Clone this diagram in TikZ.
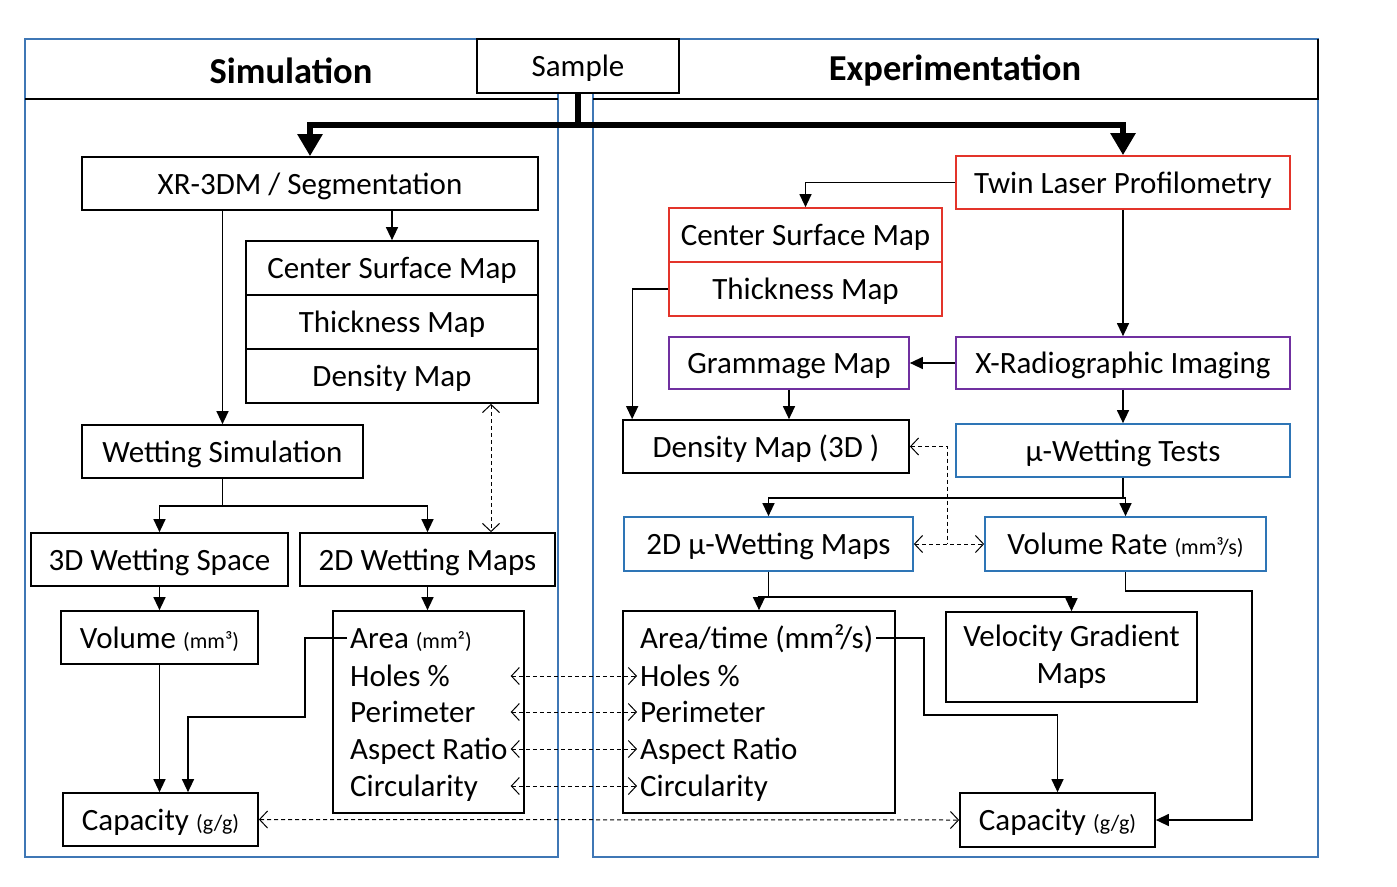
\documentclass[tikz,border=0pt]{standalone}
\usepackage{fontspec}
\setmainfont{Carlito}
\usetikzlibrary{arrows.meta}
\definecolor{panelblue}{HTML}{3F77B5}
\definecolor{boxblue}{HTML}{2E75B6}
\definecolor{boxred}{HTML}{E3342A}
\definecolor{boxpurple}{HTML}{7030A0}
\newcommand{\sm}[1]{{\fontsize{22}{26}\selectfont #1}}
\begin{document}
\begin{tikzpicture}[x=1pt,y=-1pt,
  plainbox/.style={draw=black, line width=1.7pt, inner sep=0pt, fill=white,
              font=\fontsize{31}{37}\selectfont, align=center},
  box/.style={plainbox, text height=24pt, text depth=2.6pt},
  redbox/.style={box, draw=boxred},
  purplebox/.style={box, draw=boxpurple},
  bluebox/.style={box, draw=boxblue},
  item/.style={anchor=west, inner sep=3pt, font=\fontsize{31}{37}\selectfont,
               text height=24pt, text depth=2.6pt},
  title/.style={font=\fontsize{36.5}{42}\selectfont\bfseries},
  panel/.style={draw=panelblue, line width=1.8pt},
  arr/.style={line width=1.3pt, -{Triangle[length=13pt,width=12pt]}},
  bigarr/.style={line width=6.5pt, -{Triangle[length=22pt,width=24pt]}},
  darr/.style={line width=1pt, dash pattern=on 4pt off 3pt,
               {Straight Barb[length=8pt,width=17pt]}-{Straight Barb[length=8pt,width=17pt]}},
  dend/.style={line width=1pt, dash pattern=on 4pt off 3pt,
               {Straight Barb[length=8pt,width=17pt]}-}
]
\useasboundingbox (0,0) rectangle (1397,886);
% panels
\draw[panel] (25,39) rectangle (558,857);
\draw[panel] (593,39) rectangle (1318,857);
\draw[line width=1.8pt] (25,99) -- (558,99);
\draw[line width=1.8pt] (593,99) -- (1318,99) -- (1318,39);
\node[title] (simt) at (291,71) {Simulation};
\node[title] (expt) at (955,71) {Experimentation};
\node[box, minimum width=202, minimum height=54] (sample) at (578,66) {Sample};

% left side
\node[box, minimum width=456, minimum height=53] (xr) at (310,183.5) {XR-3DM / Segmentation};
\node[box, minimum width=292, minimum height=54] (csm) at (392,268) {Center Surface Map};
\node[box, minimum width=292, minimum height=54] (thk) at (392,322) {Thickness Map};
\node[box, minimum width=292, minimum height=54] (den) at (392,376) {Density Map};
\node[box, minimum width=281, minimum height=53] (ws) at (222.5,451.5) {Wetting Simulation};
\node[box, minimum width=257, minimum height=53] (ws3) at (159.5,559.5) {3D Wetting Space};
\node[box, minimum width=255, minimum height=53] (wm2) at (427.5,559.5) {2D Wetting Maps};
\node[box, minimum width=197, minimum height=53] (vol) at (159.5,637.5) {Volume \sm{(mm³)}};
\node[box, minimum width=191, minimum height=202] (alist) at (428.5,712) {};
\node[item] (areaL) at (347,638) {Area \sm{(mm²)}};
\node[item] (holesL) at (347,676) {Holes \%};
\node[item] (perL) at (347,712) {Perimeter};
\node[item] (aspL) at (347,749) {Aspect Ratio};
\node[item] (cirL) at (347,786) {Circularity};
\node[box, minimum width=195, minimum height=53] (capL) at (160.5,819.5) {Capacity \sm{(g/g)}};

% right side
\node[redbox, minimum width=334, minimum height=53] (tlp) at (1123,182.5) {Twin Laser Profilometry};
\node[redbox, minimum width=273, minimum height=54] (csmR) at (805.5,235) {Center Surface Map};
\node[redbox, minimum width=273, minimum height=54] (thkR) at (805.5,289) {Thickness Map};
\node[purplebox, minimum width=334, minimum height=52] (xri) at (1123,363) {X-Radiographic Imaging};
\node[purplebox, minimum width=240, minimum height=52] (gm) at (789,363) {Grammage Map};
\node[box, minimum width=286, minimum height=53] (denR) at (766,446.5) {Density Map (3D )};
\node[bluebox, minimum width=334, minimum height=53] (wt) at (1123,450.5) {µ-Wetting Tests};
\node[bluebox, minimum width=289, minimum height=54] (wm2R) at (768.5,544) {2D µ-Wetting Maps};
\node[bluebox, minimum width=281, minimum height=54] (vr) at (1125.5,544) {Volume Rate \sm{(mm³/s)}};
\node[box, minimum width=272, minimum height=202] (at) at (759,712) {};
\node[item] (atT) at (637,638) {Area/time (mm²/s)};
\node[item] (holesR) at (637,676) {Holes \%};
\node[item] (perR) at (637,712) {Perimeter};
\node[item] (aspR) at (637,749) {Aspect Ratio};
\node[item] (cirR) at (637,786) {Circularity};
\node[plainbox, minimum width=251, minimum height=90] (vg) at (1071.5,657) {Velocity Gradient\\Maps};
\node[box, minimum width=195, minimum height=54] (capR) at (1057.5,820) {Capacity \sm{(g/g)}};

% thick arrows from sample
\draw[bigarr] (sample.south) -- ++(0,31) -| (xr.north);
\draw[bigarr] (sample.south) -- ++(0,31) -| (tlp.north);

% left connectors
\draw[arr] (xr.south -| ws.north) -- (ws.north);
\draw[arr] (xr.south -| csm.north) -- (csm.north);
\draw[arr] (ws.south) -- ++(0,27) -| (ws3.north);
\draw[arr] (ws.south) -- ++(0,27) -| (wm2.north);
\draw[darr] ([xshift=99]den.south) -- ([xshift=63.5]wm2.north);
\draw[arr] (ws3.south) -- (ws3.south |- vol.north);
\draw[arr] (wm2.south) -- (wm2.south |- alist.north);
\draw[arr] (vol.south) -- (vol.south |- capL.north);
\draw[arr] (areaL.west) -- ++(-42,0) -- ++(0,79) -| ([xshift=27.5]capL.north);

% dashed links between lists
\draw[darr] (holesL -| aspL.east) -- (holesR.west);
\draw[darr] (perL -| aspL.east) -- (perR.west);
\draw[darr] (aspL.east) -- (aspR.west);
\draw[darr] (cirL -| aspL.east) -- (cirR.west);
\draw[darr] (capL.east) -- (capR.west);

% right connectors
\draw[arr] (tlp.west) -| (csmR.north);
\draw[arr] (thkR.west) -| ([xshift=10]denR.north west);
\draw[arr] (tlp.south) -- (xri.north);
\draw[arr] (xri.west) -- (gm.east);
\draw[arr] (gm.south) -- (gm.south |- denR.north);
\draw[arr] (xri.south) -- (wt.north);
\draw[arr] (wt.south) -- ++(0,20) -| (wm2R.north);
\draw[arr] (wt.south) -- ++(0,20) -| (vr.north);
\draw[dend] (denR.east) -- ++(38,0) -- ++(0,97.5);
\draw[darr] (wm2R.east) -- (vr.west);
\draw[arr] (wm2R.south) -- ++(0,25) -| (at.north);
\draw[arr] (wm2R.south) -- ++(0,25) -| (vg.north);
\draw[arr] (atT.east) -- (at.east |- atT) -- ++(28,0) -- ++(0,77) -| (capR.north);
\draw[arr] (vr.south) -- ++(0,19) -| ([xshift=96]capR.east) -- (capR.east);
\end{tikzpicture}
\end{document}
